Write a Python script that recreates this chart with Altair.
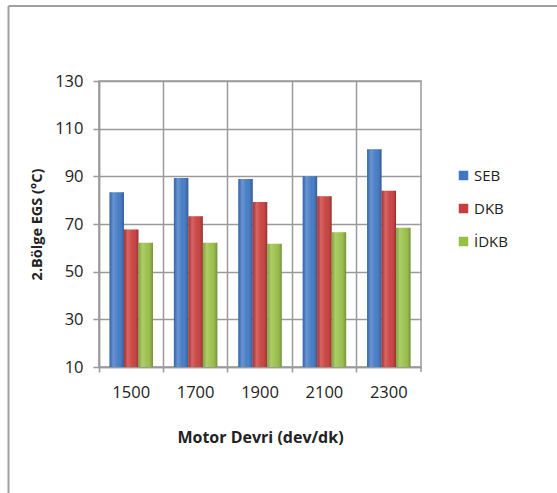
import altair as alt
import pandas as pd

categories = ["1500", "1700", "1900", "2100", "2300"]
series = ["SEB", "DKB", "İDKB"]
seb = [83.3, 89.3, 88.9, 90.0, 101.4]
dkb = [67.7, 73.2, 79.2, 81.6, 84.0]
idkb = [62.1, 62.1, 61.7, 66.5, 68.4]
colors = ["#3f77c4", "#c83c3a", "#98bf45"]

rows = []
for name, vals in zip(series, [seb, dkb, idkb]):
    for c, v in zip(categories, vals):
        rows.append({"devir": c, "seri": name, "deger": v})
df = pd.DataFrame(rows)

W, H = 322, 286
FONT = "Open Sans"

x_enc = alt.X(
    "devir:N",
    sort=categories,
    scale=alt.Scale(paddingInner=0, paddingOuter=0),
    axis=alt.Axis(
        title="Motor Devri (dev/dk)",
        bandPosition=0,
        labelOffset=0,
        labelAngle=0,
        grid=True,
        gridColor="#9a9a9a",
        gridWidth=1.5,
        tickColor="#9a9a9a",
        tickWidth=1.5,
        tickSize=5,
        domainColor="#9a9a9a",
        domainWidth=1.5,
        labelPadding=12,
        labelFontSize=16.5,
        labelColor="#222222",
        labelFont=FONT,
        titleFont=FONT,
        titleFontSize=16,
        titleFontWeight="bold",
        titleColor="#222222",
        titleY=70,
        titleBaseline="middle",
    ),
)
xoff = alt.XOffset(
    "seri:N", sort=series, scale=alt.Scale(paddingInner=0, paddingOuter=0.72)
)
y_enc = alt.Y(
    "deger:Q",
    scale=alt.Scale(domain=[10, 130], nice=False, zero=False, clamp=True),
    axis=alt.Axis(
        title="2.Bölge EGS  (°C)",
        values=[10, 30, 50, 70, 90, 110, 130],
        grid=True,
        gridColor="#9a9a9a",
        gridWidth=1.5,
        tickColor="#9a9a9a",
        tickWidth=1.5,
        tickSize=6,
        domainColor="#9a9a9a",
        domainWidth=1.5,
        labelPadding=10,
        labelFontSize=16.5,
        labelColor="#222222",
        labelFont=FONT,
        titleFont=FONT,
        titleFontSize=14.5,
        titleFontWeight="bold",
        titleColor="#222222",
        titleX=-62,
        titleY=H / 2,
        titleAngle=-90,
        titleAlign="center",
        titleBaseline="middle",
    ),
)

bars = alt.Chart(df).mark_bar().encode(
    x=x_enc,
    xOffset=xoff,
    y=y_enc,
    color=alt.Color(
        "seri:N",
        sort=series,
        scale=alt.Scale(domain=series, range=colors),
        legend=alt.Legend(
            title=None,
            orient="none",
            legendX=357,
            legendY=87,
            symbolType="square",
            symbolSize=90,
            symbolStrokeWidth=0,
            labelFont=FONT,
            labelFontSize=15,
            labelColor="#222222",
            labelOffset=3,
            rowPadding=17,
            padding=0,
        ),
    ),
)

shade = alt.Chart(df).mark_bar(
    color=alt.Gradient(
        gradient="linear",
        x1=0, x2=1, y1=0, y2=0,
        stops=[
            alt.GradientStop(offset=0, color="rgba(0,0,0,0.10)"),
            alt.GradientStop(offset=0.25, color="rgba(255,255,255,0.22)"),
            alt.GradientStop(offset=0.6, color="rgba(255,255,255,0.05)"),
            alt.GradientStop(offset=1, color="rgba(0,0,0,0.25)"),
        ],
    )
).encode(x=x_enc, xOffset=xoff, y=y_enc)

frame = alt.Chart(alt.Data(values=[{}]))
left_border = frame.mark_rule(color="#a0a0a0", strokeWidth=2).encode(
    x=alt.value(-90.5), y=alt.value(-75), y2=alt.value(420)
)
top_border = frame.mark_rule(color="#a0a0a0", strokeWidth=2).encode(
    x=alt.value(-90.5), x2=alt.value(470), y=alt.value(-75)
)
right_tick = frame.mark_rule(color="#9a9a9a", strokeWidth=1.5).encode(
    x=alt.value(W), y=alt.value(H), y2=alt.value(H + 5)
)

chart = alt.layer(bars, shade, left_border, top_border, right_tick).properties(
    width=W,
    height=H,
    autosize=alt.AutoSizeParams(type="none"),
    padding={"left": 99, "top": 81, "right": 136, "bottom": 126},
    background="white",
).configure_view(stroke="#9a9a9a", strokeWidth=1.5)

chart.save("out.html", embed_options={"renderer": "svg", "actions": False})
